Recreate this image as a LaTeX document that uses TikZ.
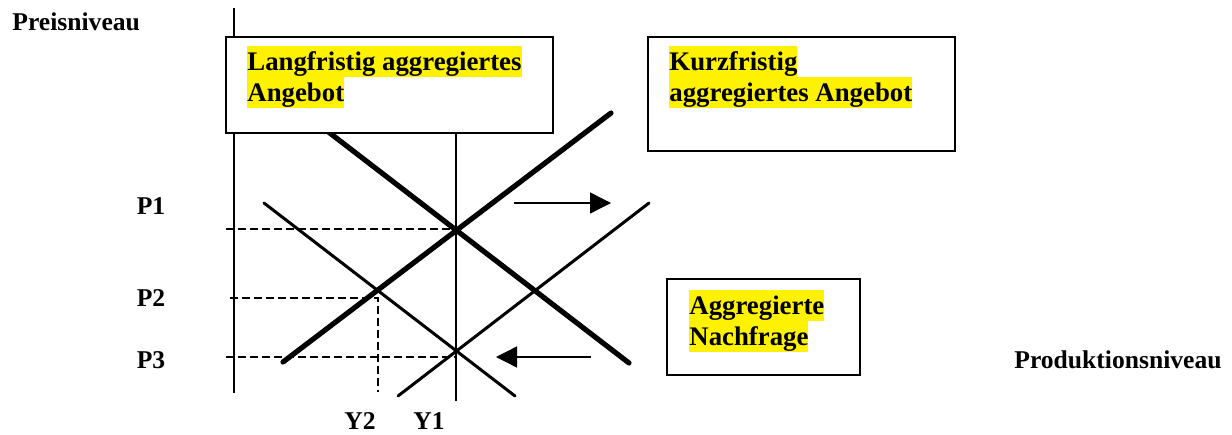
\documentclass[tikz,border=0pt]{standalone}
\usepackage{fontspec}
\setmainfont{Liberation Serif}
\usetikzlibrary{arrows.meta}
\newcommand\chartfont{\fontsize{13.4}{15.5}\selectfont\bfseries}
\newcommand\tagfont{\fontsize{12.8}{15}\selectfont\bfseries}
\tikzset{
    as ad diagram/.style = {x=0.5pt, y=-0.5pt,
                            >={Triangle[length=10.5pt, width=10.5pt]}},
    axis/.style          = {line width=1.4pt},
    curve/.style         = {line width=1.5pt, line cap=round},
    heavy curve/.style   = {line width=2.6pt, line cap=round},
    output line/.style   = {line width=0.7pt},
    guide/.style         = {line width=0.6pt, dash pattern=on 4pt off 2pt},
    curve shift/.style   = {line width=0.7pt, ->},
    caption box/.style   = {draw, line width=0.8pt, fill=white,
                            inner sep=0pt},
    marked/.style        = {fill=yellow, inner sep=0pt, text height=12pt,
                            text depth=3.5pt, anchor=north west,
                            font=\chartfont},
    tag/.style           = {inner sep=0pt, anchor=base, font=\tagfont}
}
\def\pone{229}
\def\ptwo{298}
\def\pthree{357}
\def\yone{456}
\def\ytwo{378}

\begin{document}
\begin{tikzpicture}[as ad diagram]
\useasboundingbox (0,0) rectangle (1232,434);

% Price axis and the two axis titles.
\coordinate (axistop) at (234,8);
\coordinate (axisend) at (234,393);
\draw[axis] (axistop) -- (axisend);
\node[tag, anchor=base west] (price) at (12,30) {Preisniveau};
\node[tag, anchor=base east] (output) at (1222,368) {Produktionsniveau};

% Guide lines from the equilibria to the axes.
\coordinate (p1start) at (226,\pone);
\coordinate (p1end) at (\yone,\pone);
\coordinate (p2start) at (230,\ptwo);
\coordinate (p2corner) at (\ytwo,\ptwo);
\coordinate (y2end) at (\ytwo,392);
\coordinate (p3start) at (226,\pthree);
\coordinate (p3end) at (\yone,\pthree);
\draw[guide] (p1start) -- (p1end);
\draw[guide] (p2start) -- (p2corner) -- (y2end);
\draw[guide] (p3start) -- (p3end);

% Output level Y1.
\coordinate (y1top) at (\yone,133);
\coordinate (y1end) at (\yone,401);
\draw[output line] (y1top) -- (y1end);

% Demand and supply curves.
\coordinate (adtop) at (264,203);
\coordinate (adend) at (515,396);
\coordinate (asnewlow) at (398,396);
\coordinate (asnewhigh) at (649,203);
\coordinate (asoldlow) at (283,362);
\coordinate (asoldhigh) at (611,113);
\coordinate (adnewtop) at (322,127);
\coordinate (adnewend) at (629,363);
\draw[curve] (adtop) -- (adend);
\draw[curve] (asnewlow) -- (asnewhigh);
\draw[heavy curve] (asoldlow) -- (asoldhigh);
\draw[heavy curve] (adnewtop) -- (adnewend);

% Shifts of the curves.
\coordinate (rightfrom) at (514,203);
\coordinate (rightto) at (611,203);
\coordinate (leftfrom) at (591,\pthree);
\coordinate (leftto) at (496,\pthree);
\draw[curve shift] (rightfrom) -- (rightto);
\draw[curve shift] (leftfrom) -- (leftto);

% Level labels.
\node[tag] (P1) at (151,214) {P1};
\node[tag] (P2) at (151,306) {P2};
\node[tag] (P3) at (151,368) {P3};
\node[tag] (Y2) at (360,429) {Y2};
\node[tag] (Y1) at (429,429) {Y1};

% Caption boxes with highlighted text.
\node[caption box, minimum width=163.5pt, minimum height=48pt]
    (lras) at (389.5,85) {};
\node[marked] (lras1) at (247,46) {Langfristig aggregiertes};
\node[marked] (lras2) at (247,77) {Angebot};

\node[caption box, minimum width=153.5pt, minimum height=57pt]
    (sras) at (801.5,94) {};
\node[marked] (sras1) at (669,46) {Kurzfristig};
\node[marked] (sras2) at (669,77) {aggregiertes Angebot};

\node[caption box, minimum width=96.5pt, minimum height=48pt]
    (ad) at (763.5,327) {};
\node[marked] (ad1) at (689,290) {Aggregierte};
\node[marked] (ad2) at (689,321) {Nachfrage};

\end{tikzpicture}
\end{document}
